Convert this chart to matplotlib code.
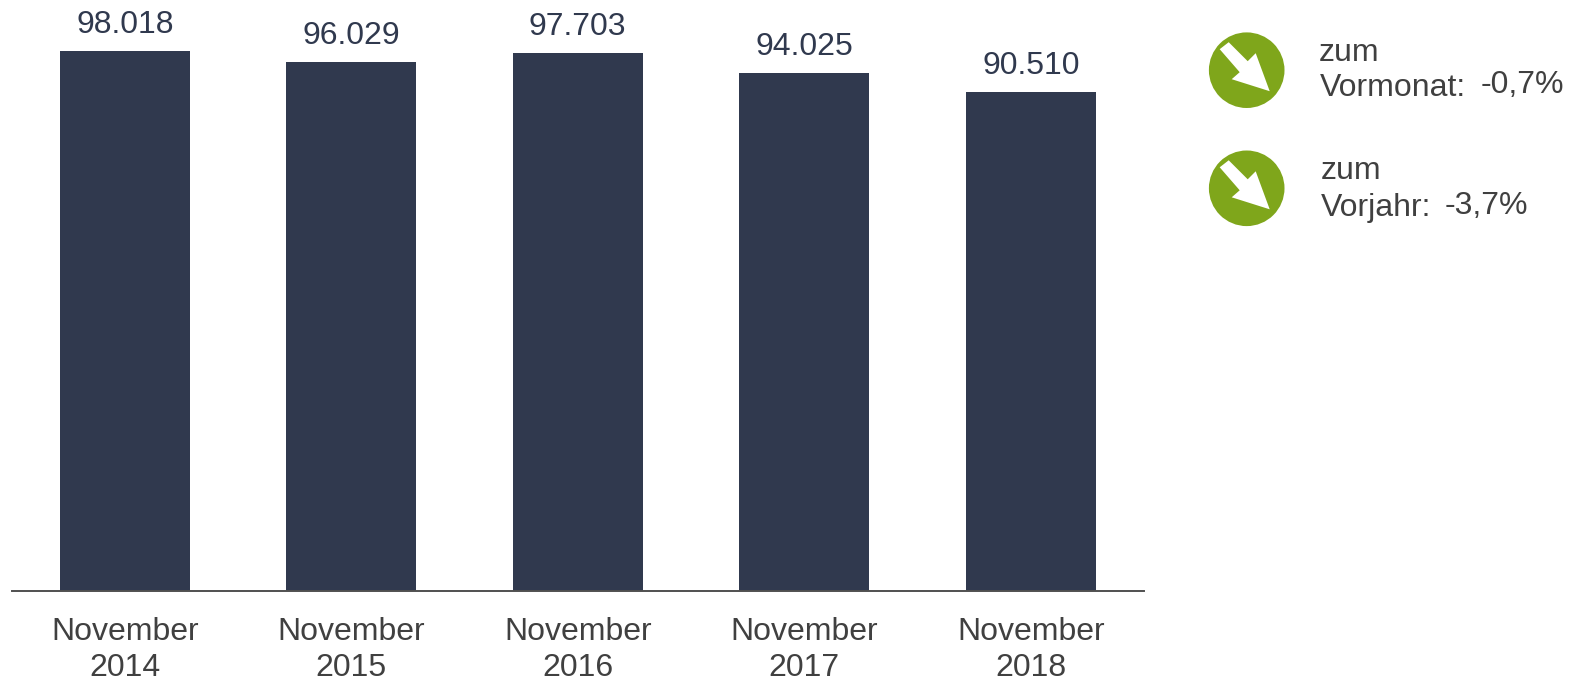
#!/usr/bin/env python3
"""Bar chart of the November values 2014-2018 with two trend badges."""
import matplotlib

matplotlib.use("Agg")
import matplotlib.pyplot as plt
from matplotlib.patches import Circle, Polygon

W, H = 1576, 680
DPI = 100

months = ["November"] * 5
years = ["2014", "2015", "2016", "2017", "2018"]
values = [98018, 96029, 97703, 94025, 90510]
value_labels = ["98.018", "96.029", "97.703", "94.025", "90.510"]

NAVY = "#30394e"
GREY = "#404040"
GREEN = "#7fa61b"

plt.rcParams["font.family"] = ["Liberation Sans", "DejaVu Sans"]
FS = 23

fig = plt.figure(figsize=(W / DPI, H / DPI), dpi=DPI)

# main axes, placed in pixels: baseline at y=591
left, right, base = 11.5, 1144, 591
ax = fig.add_axes([left / W, 1 - base / H, (right - left) / W, base / H])
ax.bar(range(len(values)), values, width=0.572, color=NAVY)
ax.set_xlim(-0.5, 4.5)
ax.set_ylim(0, base / (540 / 98018))
for s in ("top", "left", "right"):
    ax.spines[s].set_visible(False)
ax.spines["bottom"].set_color("#505050")
ax.spines["bottom"].set_linewidth(1.4)
ax.set_yticks([])
ax.set_xticks(range(len(values)))
ax.set_xticklabels([f"{m}\n{y}" for m, y in zip(months, years)],
                   fontsize=FS, color=GREY, linespacing=1.26)
ax.tick_params(axis="x", length=0, pad=18.5)

for i, (v, lab) in enumerate(zip(values, value_labels)):
    ax.annotate(lab, (i, v), xytext=(0, 13), textcoords="offset points",
                ha="center", va="baseline", fontsize=FS, color=NAVY)

# overlay in image pixels for the trend badges
ov = fig.add_axes([0, 0, 1, 1])
ov.set_xlim(0, W)
ov.set_ylim(H, 0)
ov.axis("off")
ov.patch.set_alpha(0)

ARROW = [(-27, -21), (-18, -28), (1, -9), (9, -17), (23, 21), (-15, 9), (-7, 2)]
for cy in (70.2, 188.3):
    cx = 1246.7
    ov.add_patch(Circle((cx, cy), 37.8, color=GREEN, lw=0))
    ov.add_patch(Polygon([(cx + dx, cy + dy) for dx, dy in ARROW], color="white", lw=0))

legend_texts = [
    (1319, 61, "zum"),
    (1319.5, 96, "Vormonat:"),
    (1481, 93, "-0,7%"),
    (1320.5, 179, "zum"),
    (1321, 216, "Vorjahr:"),
    (1445, 214, "-3,7%"),
]
for x, y, s in legend_texts:
    ov.text(x, y, s, fontsize=FS, color=GREY, ha="left", va="baseline")

fig.savefig("out.png", dpi=DPI)
